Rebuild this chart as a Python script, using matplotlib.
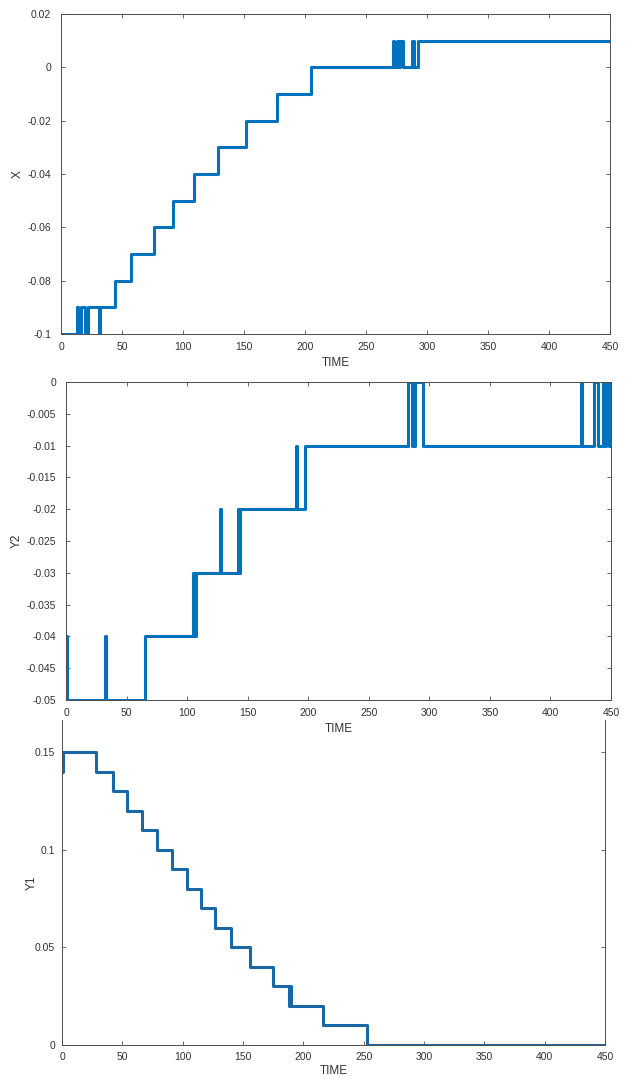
import matplotlib
matplotlib.use('Agg')
import matplotlib.pyplot as plt
from matplotlib.ticker import FuncFormatter

# DATA (change points: time where the value switches, new value)
x_time = [0, 13, 14, 16, 20, 22, 31, 32, 44, 57, 76, 92, 109, 129, 152, 177, 205,
          272, 273, 275, 276, 278, 280, 288, 289, 293, 450]
x_val = [-0.10, -0.09, -0.10, -0.09, -0.10, -0.09, -0.10, -0.09, -0.08, -0.07, -0.06,
         -0.05, -0.04, -0.03, -0.02, -0.01, 0.0,
         0.01, 0.0, 0.01, 0.0, 0.01, 0.0, 0.01, 0.0, 0.01, 0.01]

y2_time = [0, 1, 32, 33, 65, 105, 106, 107, 127, 128, 142, 143, 144, 190, 191, 197,
           282, 286, 288, 295, 425, 426, 436, 439, 443, 445, 446, 448, 449, 450]
y2_val = [-0.04, -0.05, -0.04, -0.05, -0.04, -0.03, -0.04, -0.03, -0.02, -0.03,
          -0.02, -0.03, -0.02, -0.01, -0.02, -0.01,
          0.0, -0.01, 0.0, -0.01, 0.0, -0.01, 0.0, -0.01, 0.0, -0.01, 0.0, -0.01, 0.0, -0.01]

y1_time = [0, 1, 28, 42, 54, 66, 79, 91, 104, 115, 127, 140, 156, 175,
           188, 189, 190, 191, 216, 253, 450]
y1_val = [0.14, 0.15, 0.14, 0.13, 0.12, 0.11, 0.10, 0.09, 0.08, 0.07, 0.06, 0.05,
          0.04, 0.03, 0.02, 0.03, 0.02, 0.02, 0.01, 0.0, 0.0]

time_ticks = [0, 50, 100, 150, 200, 250, 300, 350, 400, 450]
x_ticks = [0.02, 0, -0.02, -0.04, -0.06, -0.08, -0.1]
y2_ticks = [0, -0.005, -0.01, -0.015, -0.02, -0.025, -0.03, -0.035, -0.04, -0.045, -0.05]
y1_ticks = [0, 0.05, 0.1, 0.15]

plt.rcParams['font.family'] = ['Liberation Sans', 'DejaVu Sans']
plt.rcParams['axes.unicode_minus'] = False

W, H = 628, 1079
fig = plt.figure(figsize=(W / 100, H / 100), dpi=100)

blue = '#0072BD'
axcol = '#4d4d4d'
txtcol = '#333333'
fmt = FuncFormatter(lambda v, p: '%g' % round(v, 4))


def make_axes(left, right, top, bottom):
    return fig.add_axes([left / W, 1 - bottom / H, (right - left) / W, (bottom - top) / H])


def style(ax, ylabel):
    for s in ax.spines.values():
        s.set_color(axcol)
        s.set_linewidth(0.7)
    ax.patch.set_alpha(0)
    ax.tick_params(direction='in', length=3, width=0.6, colors=axcol,
                   labelcolor=txtcol, labelsize=7.5, top=True, right=True)
    ax.tick_params(axis='x', pad=6)
    ax.tick_params(axis='y', pad=7)
    ax.xaxis.set_major_formatter(fmt)
    ax.yaxis.set_major_formatter(fmt)
    ax.set_xlabel('TIME', fontsize=8.5, color=txtcol, labelpad=3)
    ax.set_ylabel(ylabel, fontsize=8.5, color=txtcol, labelpad=3)
    ax.set_xlim(0, 450)
    ax.set_xticks(time_ticks)


ax1 = make_axes(61, 610, 14, 334)
ax1.plot(x_time, x_val, drawstyle='steps-post', color=blue, lw=2.2)
style(ax1, 'X')
ax1.set_ylim(-0.1, 0.02)
ax1.set_yticks(x_ticks)

ax2 = make_axes(66, 611, 382, 700)
ax2.plot(y2_time, y2_val, drawstyle='steps-post', color=blue, lw=2.2)
style(ax2, 'Y2')
ax2.set_ylim(-0.05, 0)
ax2.set_yticks(y2_ticks)

ax3 = make_axes(62, 605, 720, 1045)
ax3.plot(y1_time, y1_val, drawstyle='steps-post', color='#1868A8', lw=2.2)
style(ax3, 'Y1')
ax3.set_ylim(0, 0.1664)
ax3.set_yticks(y1_ticks)
ax3.spines['top'].set_visible(False)
ax3.tick_params(top=False)
ax3.tick_params(axis='x', pad=5)
ax3.tick_params(axis='y', pad=5)
ax3.set_xlabel('TIME', fontsize=8.5, color=txtcol, labelpad=2)
ax3.set_ylabel('Y1', fontsize=8.5, color=txtcol, labelpad=-2)

fig.savefig('out.png', dpi=100)
